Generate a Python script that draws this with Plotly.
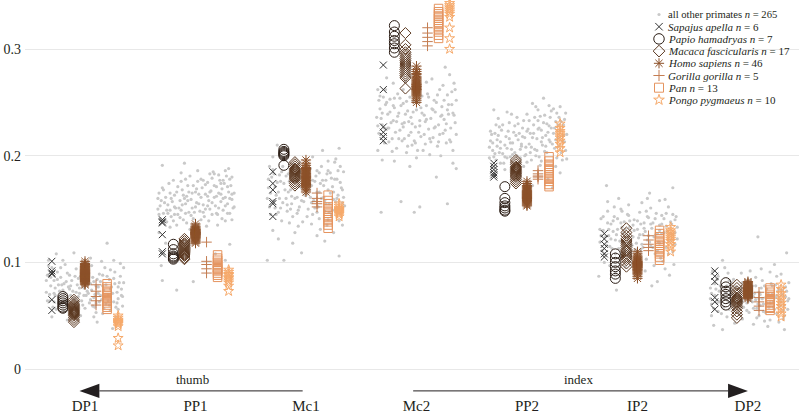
import plotly.graph_objects as go

categories = ["DP1", "PP1", "Mc1", "Mc2", "PP2", "IP2", "DP2"]
y_ticks = [0, 0.1, 0.2, 0.3]
y_tick_labels = ["0", "0.1", "0.2", "0.3"]

# ---- all other primates: (jitter within column, value) ----
other_DP1 = [(-0.33,0.102),(-0.30,0.095),(-0.34,0.088),(-0.28,0.083),(-0.31,0.078),(-0.35,0.072),(-0.27,0.069),(-0.32,0.064),(-0.29,0.058),(-0.25,0.091),(-0.22,0.086),(-0.24,0.079),(-0.20,0.074),(-0.23,0.067),(-0.18,0.071),(-0.21,0.061),(-0.17,0.082),(-0.15,0.077),(-0.19,0.054),(-0.13,0.069),(-0.14,0.088),(-0.11,0.073),(-0.09,0.066),(-0.12,0.058),(-0.07,0.079),(-0.05,0.071),(-0.08,0.094),(-0.03,0.064),(-0.06,0.085),(-0.01,0.076),(0.01,0.069),(0.02,0.081),(0.04,0.062),(0.03,0.092),(0.06,0.074),(0.08,0.067),(0.07,0.086),(0.10,0.078),(0.12,0.071),(0.09,0.058),(0.13,0.089),(0.15,0.065),(0.14,0.082),(0.17,0.074),(0.19,0.061),(0.18,0.095),(0.21,0.069),(0.22,0.084),(0.24,0.077),(0.26,0.063),(0.23,0.055),(0.27,0.091),(0.29,0.072),(0.31,0.081),(0.30,0.066),(0.33,0.075),(0.34,0.059),(0.32,0.099),(0.20,0.118),(-0.10,0.109),(-0.26,0.108),(0.05,0.104),(-0.16,0.046),(0.11,0.044),(0.25,0.038),(-0.04,0.050),(0.28,0.049),(0.16,0.052),(-0.30,0.049),(0.00,0.057),
             (-0.35,0.083),(-0.32,0.070),(-0.29,0.090),(-0.27,0.076),(-0.24,0.062),(-0.22,0.095),(-0.19,0.080),(-0.17,0.064),(-0.14,0.075),(-0.12,0.083),(-0.10,0.061),(-0.08,0.072),(-0.06,0.068),(-0.04,0.087),(-0.02,0.060),(0.00,0.083),(0.02,0.073),(0.05,0.080),(0.07,0.059),(0.09,0.070),(0.11,0.084),(0.13,0.063),(0.16,0.078),(0.18,0.068),(0.20,0.087),(0.22,0.060),(0.25,0.071),(0.27,0.080),(0.29,0.062),(0.32,0.087),(0.34,0.068),(0.06,0.097),(-0.18,0.098),(0.15,0.101),(-0.28,0.063),(0.30,0.056),(-0.12,0.052),(0.10,0.053),(0.23,0.093),(-0.33,0.097),
             (-0.34,0.064),(-0.31,0.086),(-0.28,0.071),(-0.25,0.084),(-0.23,0.073),(-0.21,0.079),(-0.18,0.065),(-0.16,0.090),(-0.13,0.078),(-0.11,0.066),(-0.09,0.087),(-0.07,0.063),(-0.05,0.076),(-0.03,0.083),(-0.01,0.069),(0.01,0.089),(0.03,0.071),(0.05,0.065),(0.08,0.082),(0.10,0.062),(0.12,0.077),(0.14,0.069),(0.16,0.088),(0.19,0.079),(0.21,0.064),(0.23,0.075),(0.26,0.085),(0.28,0.058),(0.30,0.077),(0.33,0.069),(0.35,0.081),(-0.20,0.102),(0.00,0.099),(0.26,0.102),(-0.08,0.056),(0.17,0.057),(-0.26,0.056),(0.35,0.095),(-0.15,0.060),(0.08,0.049)]
other_PP1 = [(-0.30,0.191),(-0.10,0.193),(0.16,0.185),(-0.33,0.165),(-0.31,0.158),(-0.34,0.150),(-0.29,0.146),(-0.32,0.141),(-0.27,0.161),(-0.25,0.154),(-0.26,0.138),(-0.23,0.149),(-0.21,0.157),(-0.22,0.143),(-0.19,0.163),(-0.18,0.151),(-0.16,0.145),(-0.17,0.135),(-0.14,0.158),(-0.12,0.168),(-0.13,0.149),(-0.11,0.140),(-0.09,0.155),(-0.08,0.162),(-0.06,0.147),(-0.07,0.172),(-0.04,0.159),(-0.03,0.151),(-0.02,0.141),(0.00,0.166),(0.01,0.156),(0.02,0.176),(0.04,0.148),(0.05,0.161),(0.06,0.170),(0.07,0.154),(0.09,0.164),(0.08,0.143),(0.11,0.175),(0.12,0.158),(0.13,0.150),(0.14,0.167),(0.15,0.179),(0.17,0.161),(0.18,0.153),(0.19,0.171),(0.20,0.145),(0.21,0.165),(0.22,0.177),(0.23,0.157),(0.24,0.169),(0.25,0.149),(0.26,0.174),(0.27,0.161),(0.28,0.181),(0.29,0.155),(0.30,0.166),(0.31,0.146),(0.32,0.172),(0.33,0.159),(0.34,0.151),(0.27,0.139),(0.10,0.134),(-0.05,0.131),(-0.30,0.083),(-0.17,0.074),(-0.02,0.082),(0.18,0.108),(0.27,0.102),(0.31,0.117),(-0.31,0.097),(-0.27,0.118),
             (-0.34,0.160),(-0.32,0.153),(-0.29,0.168),(-0.28,0.140),(-0.25,0.146),(-0.23,0.165),(-0.20,0.139),(-0.19,0.152),(-0.16,0.171),(-0.14,0.142),(-0.12,0.154),(-0.10,0.160),(-0.08,0.137),(-0.06,0.166),(-0.04,0.144),(-0.02,0.172),(0.00,0.152),(0.03,0.164),(0.05,0.140),(0.07,0.177),(0.09,0.150),(0.11,0.162),(0.13,0.183),(0.15,0.156),(0.17,0.172),(0.19,0.146),(0.21,0.182),(0.23,0.164),(0.25,0.177),(0.27,0.153),(0.29,0.171),(0.31,0.160),(0.33,0.180),(0.35,0.165),(0.02,0.186),(-0.20,0.177),(0.24,0.141),(-0.09,0.178),(0.12,0.139),(0.30,0.188),
             (-0.33,0.145),(-0.30,0.170),(-0.28,0.156),(-0.26,0.149),(-0.24,0.174),(-0.22,0.160),(-0.19,0.145),(-0.17,0.166),(-0.15,0.151),(-0.13,0.176),(-0.11,0.163),(-0.09,0.146),(-0.07,0.158),(-0.05,0.181),(-0.03,0.165),(-0.01,0.147),(0.01,0.169),(0.03,0.155),(0.05,0.178),(0.07,0.147),(0.09,0.173),(0.11,0.153),(0.13,0.166),(0.15,0.145),(0.17,0.183),(0.19,0.162),(0.21,0.151),(0.23,0.174),(0.25,0.160),(0.27,0.186),(0.29,0.146),(0.31,0.178),(0.33,0.164),(0.35,0.152),(-0.23,0.133),(0.00,0.136),(0.20,0.135),(-0.33,0.128),(0.33,0.140),(-0.13,0.184)]
other_Mc1 = [(-0.26,0.210),(0.15,0.205),(0.30,0.207),(-0.34,0.178),(-0.32,0.165),(-0.33,0.152),(-0.30,0.187),(-0.28,0.171),(-0.29,0.158),(-0.27,0.145),(-0.24,0.182),(-0.25,0.166),(-0.23,0.151),(-0.21,0.190),(-0.20,0.174),(-0.22,0.139),(-0.18,0.160),(-0.17,0.148),(-0.16,0.183),(-0.14,0.168),(-0.13,0.155),(-0.12,0.143),(-0.11,0.192),(-0.09,0.176),(-0.08,0.161),(-0.07,0.149),(-0.05,0.185),(-0.04,0.170),(-0.03,0.138),(-0.02,0.157),(0.00,0.179),(0.01,0.164),(0.02,0.150),(0.04,0.188),(0.05,0.172),(0.06,0.145),(0.07,0.158),(0.09,0.181),(0.10,0.166),(0.11,0.152),(0.12,0.141),(0.13,0.174),(0.14,0.190),(0.16,0.161),(0.17,0.148),(0.18,0.177),(0.19,0.135),(0.20,0.168),(0.21,0.155),(0.22,0.184),(0.23,0.144),(0.24,0.171),(0.25,0.159),(0.26,0.194),(0.27,0.150),(0.28,0.178),(0.29,0.163),(0.31,0.146),(0.32,0.170),(0.33,0.156),(0.34,0.185),(0.30,0.139),(-0.12,0.118),(-0.04,0.109),(0.30,0.106),(-0.35,0.102),(-0.20,0.102),(0.10,0.125),(0.25,0.128),(-0.30,0.130),
             (-0.35,0.160),(-0.31,0.180),(-0.28,0.151),(-0.26,0.175),(-0.24,0.160),(-0.22,0.185),(-0.19,0.168),(-0.17,0.154),(-0.15,0.176),(-0.13,0.162),(-0.10,0.182),(-0.08,0.146),(-0.06,0.171),(-0.04,0.158),(-0.01,0.186),(0.01,0.143),(0.03,0.168),(0.05,0.156),(0.08,0.176),(0.10,0.147),(0.12,0.184),(0.14,0.160),(0.16,0.172),(0.18,0.155),(0.20,0.186),(0.22,0.165),(0.24,0.149),(0.26,0.178),(0.28,0.160),(0.31,0.190),(0.33,0.168),(0.35,0.153),(-0.20,0.197),(0.06,0.199),(-0.33,0.190),(0.20,0.140),(-0.15,0.137),(0.27,0.197),(-0.07,0.134),(0.13,0.131),
             (-0.34,0.170),(-0.32,0.145),(-0.29,0.183),(-0.27,0.163),(-0.25,0.147),(-0.23,0.176),(-0.21,0.156),(-0.18,0.181),(-0.16,0.166),(-0.14,0.150),(-0.12,0.187),(-0.10,0.160),(-0.08,0.177),(-0.06,0.152),(-0.03,0.180),(-0.01,0.163),(0.02,0.184),(0.04,0.161),(0.06,0.177),(0.08,0.151),(0.10,0.186),(0.12,0.166),(0.15,0.177),(0.17,0.158),(0.19,0.183),(0.21,0.147),(0.23,0.179),(0.25,0.166),(0.27,0.157),(0.29,0.186),(0.31,0.175),(0.34,0.161),(-0.30,0.199),(0.00,0.196),(0.20,0.195),(-0.10,0.128),(0.33,0.135),(-0.25,0.122),(0.17,0.120),(0.05,0.136)]
other_Mc2 = [(-0.35,0.262),(-0.30,0.255),(-0.33,0.244),(-0.36,0.236),(-0.28,0.248),(-0.31,0.229),(-0.34,0.221),(-0.29,0.212),(-0.26,0.239),(-0.24,0.253),(-0.25,0.226),(-0.22,0.216),(-0.20,0.245),(-0.21,0.233),(-0.18,0.207),(-0.17,0.258),(-0.15,0.224),(-0.16,0.240),(-0.13,0.214),(-0.12,0.249),(-0.11,0.231),(-0.09,0.203),(-0.08,0.242),(-0.07,0.219),(-0.05,0.236),(-0.04,0.210),(-0.03,0.251),(-0.01,0.227),(0.00,0.243),(0.01,0.205),(0.03,0.233),(0.04,0.218),(0.05,0.256),(0.07,0.238),(0.08,0.211),(0.09,0.247),(0.11,0.225),(0.12,0.201),(0.13,0.235),(0.15,0.217),(0.16,0.252),(0.17,0.241),(0.19,0.209),(0.20,0.229),(0.21,0.262),(0.23,0.246),(0.24,0.221),(0.25,0.234),(0.27,0.212),(0.28,0.257),(0.29,0.239),(0.31,0.226),(0.32,0.248),(0.33,0.205),(0.34,0.268),(0.35,0.231),(0.30,0.276),(0.26,0.283),(-0.10,0.270),(-0.27,0.273),(0.14,0.272),(-0.31,0.196),(-0.06,0.190),(0.33,0.193),(0.36,0.188),(-0.14,0.157),(0.03,0.152),(0.28,0.155),(-0.32,0.147),(-0.02,0.147),(0.18,0.180),
             (-0.34,0.252),(-0.32,0.235),(-0.30,0.218),(-0.28,0.262),(-0.26,0.226),(-0.24,0.241),(-0.22,0.204),(-0.20,0.254),(-0.18,0.232),(-0.16,0.216),(-0.14,0.247),(-0.12,0.227),(-0.10,0.239),(-0.08,0.209),(-0.06,0.255),(-0.04,0.230),(-0.02,0.214),(0.00,0.260),(0.02,0.222),(0.04,0.245),(0.06,0.205),(0.08,0.232),(0.10,0.258),(0.12,0.216),(0.14,0.244),(0.16,0.226),(0.18,0.250),(0.20,0.213),(0.22,0.237),(0.24,0.266),(0.26,0.224),(0.28,0.243),(0.30,0.215),(0.32,0.260),(0.34,0.238),(0.36,0.220),(-0.21,0.268),(0.09,0.269),(-0.35,0.205),(0.36,0.252),
             (-0.35,0.228),(-0.33,0.256),(-0.31,0.240),(-0.29,0.226),(-0.27,0.250),(-0.25,0.213),(-0.23,0.231),(-0.21,0.247),(-0.19,0.222),(-0.17,0.237),(-0.15,0.254),(-0.13,0.230),(-0.11,0.216),(-0.09,0.251),(-0.07,0.232),(-0.05,0.222),(-0.03,0.241),(-0.01,0.212),(0.01,0.250),(0.03,0.228),(0.05,0.240),(0.07,0.220),(0.09,0.234),(0.11,0.255),(0.13,0.213),(0.15,0.243),(0.17,0.227),(0.19,0.257),(0.21,0.220),(0.23,0.238),(0.25,0.252),(0.27,0.230),(0.29,0.248),(0.31,0.213),(0.33,0.240),(0.35,0.262),(-0.20,0.195),(0.00,0.198),(0.22,0.200),(-0.12,0.262)]
other_PP2 = [(0.15,0.254),(0.08,0.246),(-0.33,0.214),(-0.31,0.205),(-0.34,0.198),(-0.29,0.221),(-0.27,0.209),(-0.28,0.196),(-0.25,0.227),(-0.24,0.213),(-0.22,0.202),(-0.21,0.193),(-0.19,0.218),(-0.18,0.207),(-0.16,0.231),(-0.15,0.199),(-0.13,0.212),(-0.12,0.222),(-0.11,0.203),(-0.09,0.236),(-0.08,0.215),(-0.06,0.198),(-0.05,0.209),(-0.04,0.226),(-0.02,0.217),(-0.01,0.201),(0.00,0.239),(0.02,0.211),(0.03,0.221),(0.04,0.196),(0.06,0.229),(0.07,0.206),(0.09,0.216),(0.10,0.233),(0.11,0.199),(0.13,0.224),(0.14,0.210),(0.16,0.238),(0.17,0.219),(0.18,0.203),(0.20,0.228),(0.21,0.213),(0.22,0.242),(0.24,0.221),(0.25,0.207),(0.26,0.232),(0.28,0.217),(0.29,0.236),(0.30,0.224),(0.31,0.203),(0.33,0.229),(0.34,0.213),(0.35,0.240),(0.32,0.196),(0.27,0.198),(0.12,0.191),(-0.03,0.190),(-0.20,0.187),(-0.32,0.189),(0.19,0.178),(0.30,0.184),(-0.10,0.181),(0.05,0.172),(0.23,0.170),(-0.26,0.235),(-0.30,0.243),
             (-0.34,0.208),(-0.32,0.220),(-0.30,0.199),(-0.27,0.215),(-0.25,0.203),(-0.23,0.224),(-0.20,0.210),(-0.18,0.198),(-0.16,0.216),(-0.14,0.206),(-0.11,0.228),(-0.09,0.200),(-0.07,0.221),(-0.05,0.211),(-0.03,0.233),(-0.01,0.208),(0.01,0.225),(0.03,0.203),(0.05,0.217),(0.07,0.236),(0.09,0.205),(0.11,0.226),(0.13,0.213),(0.15,0.231),(0.17,0.209),(0.19,0.222),(0.21,0.236),(0.23,0.211),(0.25,0.226),(0.27,0.240),(0.29,0.209),(0.31,0.232),(0.33,0.219),(0.35,0.205),(0.20,0.247),(-0.14,0.239),(0.00,0.194),(-0.24,0.193),(0.10,0.243),(0.26,0.190),
             (-0.33,0.223),(-0.31,0.212),(-0.29,0.202),(-0.26,0.219),(-0.24,0.207),(-0.22,0.229),(-0.20,0.199),(-0.17,0.223),(-0.15,0.212),(-0.13,0.201),(-0.10,0.219),(-0.08,0.230),(-0.06,0.206),(-0.04,0.218),(-0.02,0.200),(0.00,0.223),(0.02,0.233),(0.04,0.208),(0.06,0.221),(0.08,0.200),(0.10,0.225),(0.12,0.237),(0.14,0.217),(0.16,0.204),(0.18,0.230),(0.20,0.215),(0.22,0.226),(0.24,0.244),(0.26,0.215),(0.28,0.229),(0.30,0.246),(0.32,0.214),(0.34,0.234),(0.36,0.220),(-0.18,0.241),(0.05,0.249),(-0.28,0.229),(0.13,0.195),(-0.07,0.193),(0.36,0.197)]
other_IP2 = [(-0.28,0.172),(0.11,0.165),(0.32,0.170),(0.20,0.158),(-0.17,0.160),(-0.33,0.141),(-0.31,0.130),(-0.34,0.119),(-0.30,0.108),(-0.27,0.148),(-0.26,0.125),(-0.24,0.136),(-0.23,0.113),(-0.21,0.143),(-0.20,0.121),(-0.18,0.131),(-0.16,0.104),(-0.15,0.150),(-0.13,0.127),(-0.12,0.138),(-0.10,0.116),(-0.09,0.145),(-0.07,0.133),(-0.06,0.109),(-0.04,0.124),(-0.03,0.140),(-0.01,0.118),(0.00,0.131),(0.02,0.147),(0.03,0.112),(0.05,0.126),(0.06,0.137),(0.08,0.103),(0.09,0.121),(0.10,0.142),(0.12,0.115),(0.13,0.132),(0.15,0.124),(0.16,0.108),(0.17,0.146),(0.19,0.119),(0.20,0.135),(0.22,0.127),(0.23,0.101),(0.24,0.141),(0.26,0.114),(0.27,0.129),(0.28,0.152),(0.30,0.121),(0.31,0.136),(0.32,0.110),(0.34,0.128),(0.35,0.143),(0.33,0.098),(0.25,0.094),(0.07,0.092),(-0.11,0.096),(-0.25,0.097),(-0.35,0.087),(-0.19,0.074),(0.13,0.078),(0.18,0.082),(0.29,0.088),(0.04,0.156),(-0.08,0.154),
             (-0.34,0.131),(-0.32,0.111),(-0.29,0.124),(-0.27,0.137),(-0.25,0.115),(-0.22,0.129),(-0.20,0.108),(-0.18,0.141),(-0.16,0.120),(-0.14,0.133),(-0.11,0.111),(-0.09,0.125),(-0.07,0.139),(-0.05,0.116),(-0.03,0.130),(-0.01,0.107),(0.01,0.123),(0.03,0.136),(0.05,0.114),(0.07,0.129),(0.09,0.143),(0.11,0.119),(0.14,0.137),(0.16,0.125),(0.18,0.111),(0.20,0.130),(0.22,0.144),(0.24,0.119),(0.26,0.134),(0.28,0.108),(0.30,0.127),(0.32,0.145),(0.34,0.117),(0.36,0.133),(-0.21,0.152),(0.12,0.151),(-0.30,0.100),(0.21,0.104),(0.00,0.099),(-0.14,0.148),
             (-0.33,0.125),(-0.31,0.143),(-0.28,0.116),(-0.26,0.131),(-0.24,0.122),(-0.22,0.139),(-0.19,0.126),(-0.17,0.113),(-0.15,0.137),(-0.13,0.120),(-0.11,0.131),(-0.08,0.144),(-0.06,0.121),(-0.04,0.135),(-0.02,0.112),(0.00,0.139),(0.02,0.126),(0.04,0.117),(0.06,0.132),(0.08,0.148),(0.10,0.125),(0.12,0.136),(0.14,0.114),(0.16,0.141),(0.18,0.127),(0.20,0.118),(0.22,0.136),(0.24,0.128),(0.26,0.146),(0.28,0.121),(0.30,0.138),(0.32,0.126),(0.34,0.140),(0.36,0.122),(-0.27,0.157),(0.09,0.160),(0.25,0.159),(-0.04,0.100),(0.15,0.097),(-0.20,0.090)]
other_DP2 = [(0.09,0.124),(0.35,0.109),(-0.23,0.102),(-0.32,0.092),(-0.28,0.084),(-0.34,0.076),(-0.30,0.069),(-0.33,0.061),(-0.27,0.054),(-0.25,0.078),(-0.24,0.065),(-0.22,0.058),(-0.20,0.072),(-0.19,0.049),(-0.17,0.083),(-0.16,0.062),(-0.14,0.070),(-0.13,0.055),(-0.11,0.077),(-0.10,0.064),(-0.08,0.051),(-0.07,0.068),(-0.05,0.081),(-0.04,0.058),(-0.02,0.073),(-0.01,0.062),(0.01,0.053),(0.02,0.069),(0.04,0.078),(0.05,0.057),(0.07,0.065),(0.08,0.048),(0.10,0.072),(0.11,0.060),(0.13,0.083),(0.14,0.054),(0.16,0.067),(0.17,0.075),(0.19,0.058),(0.20,0.046),(0.22,0.070),(0.23,0.063),(0.25,0.079),(0.26,0.052),(0.28,0.066),(0.29,0.059),(0.31,0.074),(0.32,0.047),(0.34,0.068),(0.36,0.056),(0.37,0.081),(0.30,0.089),(0.12,0.094),(-0.06,0.090),(-0.21,0.095),(-0.23,0.037),(0.33,0.037),(-0.31,0.041),(0.05,0.042),(0.18,0.040),(-0.12,0.043),(0.24,0.098),
             (-0.34,0.066),(-0.31,0.057),(-0.29,0.075),(-0.26,0.063),(-0.24,0.052),(-0.21,0.067),(-0.19,0.078),(-0.17,0.056),(-0.15,0.074),(-0.12,0.063),(-0.10,0.070),(-0.08,0.059),(-0.06,0.076),(-0.03,0.066),(-0.01,0.055),(0.02,0.077),(0.04,0.063),(0.06,0.071),(0.08,0.057),(0.10,0.066),(0.12,0.076),(0.14,0.061),(0.16,0.053),(0.18,0.071),(0.20,0.062),(0.22,0.078),(0.24,0.056),(0.26,0.069),(0.28,0.075),(0.30,0.063),(0.32,0.055),(0.34,0.077),(0.36,0.064),(-0.27,0.087),(0.07,0.086),(0.26,0.087),(-0.13,0.084),(0.15,0.045),(-0.05,0.047),(0.33,0.050),
             (-0.33,0.071),(-0.30,0.080),(-0.28,0.062),(-0.26,0.073),(-0.23,0.068),(-0.21,0.076),(-0.18,0.063),(-0.16,0.071),(-0.14,0.081),(-0.12,0.058),(-0.10,0.068),(-0.07,0.075),(-0.05,0.063),(-0.03,0.071),(-0.01,0.079),(0.01,0.064),(0.03,0.072),(0.05,0.068),(0.07,0.078),(0.09,0.061),(0.11,0.070),(0.13,0.066),(0.15,0.078),(0.17,0.062),(0.19,0.069),(0.21,0.080),(0.23,0.058),(0.25,0.067),(0.27,0.073),(0.29,0.063),(0.31,0.070),(0.33,0.060),(0.35,0.073),(0.37,0.066),(-0.18,0.090),(0.02,0.092),(0.20,0.091),(-0.33,0.050),(0.10,0.050),(0.28,0.044)]
other_primates = [other_DP1, other_PP1, other_Mc1, other_Mc2, other_PP2, other_IP2, other_DP2]

# ---- species values per category (DP1, PP1, Mc1, Mc2, PP2, IP2, DP2) ----
sapajus = [
    [0.101, 0.092, 0.090, 0.089, 0.065, 0.055],
    [0.140, 0.138, 0.137, 0.126, 0.110, 0.108],
    [0.185, 0.174, 0.168, 0.157, 0.155, 0.143],
    [0.285, 0.262, 0.227, 0.222, 0.218, 0.214],
    [0.193, 0.190, 0.187, 0.184, 0.182, 0.180],
    [0.127, 0.122, 0.117, 0.113, 0.108, 0.105],
    [0.092, 0.087, 0.082, 0.067, 0.063, 0.056],
]
papio = [
    [0.068, 0.066, 0.064, 0.062, 0.060, 0.058, 0.057],
    [0.117, 0.112, 0.108, 0.106, 0.105, 0.104, 0.103],
    [0.206, 0.204, 0.203, 0.202, 0.201, 0.200, 0.191],
    [0.322, 0.316, 0.312, 0.308, 0.305, 0.301, 0.297],
    [0.171, 0.160, 0.156, 0.153, 0.151, 0.149, 0.148],
    [0.108, 0.104, 0.100, 0.096, 0.092, 0.089, 0.085],
    [0.081, 0.077, 0.073, 0.070, 0.066, 0.063, 0.060],
]
macaca = [
    [0.065, 0.063, 0.061, 0.060, 0.059, 0.058, 0.057, 0.056, 0.055, 0.054, 0.053, 0.052, 0.051, 0.050, 0.048, 0.046, 0.044],
    [0.122, 0.120, 0.118, 0.117, 0.116, 0.115, 0.114, 0.113, 0.112, 0.111, 0.110, 0.109, 0.108, 0.107, 0.106, 0.104, 0.103],
    [0.194, 0.192, 0.190, 0.188, 0.187, 0.186, 0.185, 0.184, 0.183, 0.182, 0.181, 0.180, 0.179, 0.178, 0.176, 0.174, 0.172],
    [0.315, 0.304, 0.300, 0.297, 0.295, 0.293, 0.291, 0.289, 0.287, 0.285, 0.283, 0.281, 0.279, 0.277, 0.275, 0.273, 0.263],
    [0.196, 0.194, 0.192, 0.190, 0.189, 0.188, 0.187, 0.186, 0.185, 0.184, 0.183, 0.182, 0.181, 0.180, 0.178, 0.176, 0.174],
    [0.132, 0.128, 0.125, 0.122, 0.120, 0.118, 0.116, 0.114, 0.112, 0.111, 0.110, 0.108, 0.106, 0.104, 0.102, 0.099, 0.096],
    [0.079, 0.076, 0.073, 0.071, 0.069, 0.067, 0.066, 0.065, 0.064, 0.063, 0.062, 0.061, 0.059, 0.057, 0.054, 0.051, 0.048],
]
homo = [
    [0.101, 0.099, 0.098, 0.097, 0.096, 0.096, 0.095, 0.095, 0.094, 0.094, 0.093, 0.093, 0.093, 0.092, 0.092, 0.092, 0.091, 0.091, 0.091, 0.090, 0.090, 0.090, 0.090, 0.089, 0.089, 0.089, 0.088, 0.088, 0.088, 0.087, 0.087, 0.087, 0.086, 0.086, 0.086, 0.085, 0.085, 0.084, 0.084, 0.083, 0.083, 0.082, 0.082, 0.081, 0.080, 0.079],
    [0.136, 0.134, 0.133, 0.132, 0.131, 0.131, 0.130, 0.130, 0.129, 0.129, 0.128, 0.128, 0.128, 0.127, 0.127, 0.127, 0.126, 0.126, 0.126, 0.125, 0.125, 0.124, 0.124, 0.123, 0.123, 0.122, 0.121, 0.120, 0.119, 0.118],
    [0.196, 0.193, 0.191, 0.189, 0.188, 0.187, 0.186, 0.185, 0.184, 0.183, 0.183, 0.182, 0.181, 0.181, 0.180, 0.180, 0.179, 0.179, 0.178, 0.177, 0.177, 0.176, 0.175, 0.174, 0.173, 0.172, 0.171, 0.170, 0.168, 0.166],
    [0.284, 0.281, 0.279, 0.277, 0.276, 0.274, 0.273, 0.272, 0.271, 0.270, 0.269, 0.268, 0.267, 0.267, 0.266, 0.265, 0.265, 0.264, 0.263, 0.262, 0.262, 0.261, 0.260, 0.259, 0.258, 0.257, 0.256, 0.254, 0.252, 0.250],
    [0.176, 0.174, 0.172, 0.171, 0.170, 0.169, 0.168, 0.167, 0.167, 0.166, 0.166, 0.165, 0.165, 0.164, 0.164, 0.163, 0.163, 0.162, 0.162, 0.161, 0.161, 0.160, 0.160, 0.159, 0.158, 0.157, 0.156, 0.155, 0.154, 0.153],
    [0.110, 0.108, 0.106, 0.105, 0.104, 0.103, 0.102, 0.101, 0.101, 0.100, 0.100, 0.099, 0.099, 0.098, 0.098, 0.097, 0.097, 0.096, 0.096, 0.095, 0.095, 0.094, 0.093, 0.093, 0.092, 0.091, 0.090, 0.089, 0.087, 0.085],
    [0.082, 0.081, 0.080, 0.079, 0.078, 0.078, 0.077, 0.077, 0.076, 0.076, 0.076, 0.075, 0.075, 0.075, 0.074, 0.074, 0.074, 0.073, 0.073, 0.073, 0.072, 0.072, 0.071, 0.071, 0.070, 0.070, 0.069, 0.068, 0.067, 0.066],
]
gorilla = [
    [0.079, 0.073, 0.068, 0.064, 0.060],
    [0.119, 0.101, 0.098, 0.094, 0.090],
    [0.165, 0.160, 0.157, 0.155, 0.152],
    [0.320, 0.315, 0.311, 0.307, 0.303],
    [0.186, 0.183, 0.181, 0.180, 0.178],
    [0.125, 0.121, 0.117, 0.114, 0.111],
    [0.072, 0.067, 0.063, 0.059, 0.055],
]
pan = [
    [0.080, 0.077, 0.075, 0.073, 0.071, 0.069, 0.067, 0.066, 0.064, 0.062, 0.060, 0.058, 0.056],
    [0.107, 0.104, 0.102, 0.100, 0.098, 0.097, 0.095, 0.094, 0.093, 0.092, 0.090, 0.088, 0.086],
    [0.163, 0.158, 0.155, 0.152, 0.150, 0.148, 0.146, 0.144, 0.142, 0.140, 0.138, 0.135, 0.132],
    [0.338, 0.335, 0.333, 0.331, 0.329, 0.327, 0.325, 0.323, 0.321, 0.319, 0.316, 0.313, 0.310],
    [0.199, 0.195, 0.192, 0.190, 0.188, 0.186, 0.184, 0.182, 0.180, 0.178, 0.176, 0.173, 0.171],
    [0.130, 0.127, 0.124, 0.122, 0.120, 0.118, 0.116, 0.114, 0.112, 0.110, 0.108, 0.105, 0.102],
    [0.076, 0.074, 0.072, 0.070, 0.068, 0.066, 0.065, 0.063, 0.062, 0.060, 0.058, 0.057, 0.055],
]
pongo = [
    [0.050, 0.048, 0.046, 0.045, 0.044, 0.043, 0.042, 0.040, 0.029, 0.022],
    [0.093, 0.091, 0.089, 0.088, 0.086, 0.085, 0.083, 0.081, 0.078, 0.073],
    [0.155, 0.153, 0.151, 0.150, 0.149, 0.148, 0.147, 0.146, 0.145, 0.143],
    [0.343, 0.341, 0.339, 0.337, 0.335, 0.333, 0.330, 0.320, 0.310, 0.300],
    [0.230, 0.226, 0.223, 0.221, 0.219, 0.217, 0.214, 0.211, 0.207, 0.203],
    [0.133, 0.130, 0.128, 0.126, 0.124, 0.122, 0.120, 0.117, 0.114, 0.110],
    [0.079, 0.075, 0.071, 0.068, 0.065, 0.062, 0.059, 0.056, 0.052, 0.049],
]

species_names = ["Sapajus apella", "Papio hamadryas", "Macaca fascicularis",
                 "Homo sapiens", "Gorilla gorilla", "Pan", "Pongo pygmaeus"]
species_n = [6, 7, 17, 46, 5, 13, 10]
species_values = [sapajus, papio, macaca, homo, gorilla, pan, pongo]
other_n = 265

# styles
symbols = ["x-thin-open", "circle-open", "diamond-open", "asterisk-open",
           "cross-thin-open", "square-open", "star-open"]
sizes = [7, 10, 8.5, 8.5, 7.5, 8.5, 7.5]
leg_sizes = [7.5, 10.5, 9, 8.5, 8, 9, 8]
colors = ["#333333", "#2b1d15", "#5b3820", "#8c5129", "#c47d52", "#e5945f", "#f6a96a"]
offsets = [-0.3, -0.2, -0.1, 0.0, 0.1, 0.2, 0.3]
gray = "#c9c9c9"
FONT = "Liberation Serif"
TXT = "#231f20"

fig = go.Figure()

gx, gy = [], []
for i, pts in enumerate(other_primates):
    for dx, v in pts:
        gx.append(i + dx)
        gy.append(v)
fig.add_trace(go.Scatter(x=gx, y=gy, mode="markers", showlegend=False, hoverinfo="skip",
                         cliponaxis=False, marker=dict(size=3.2, color=gray)))

for k, vals in enumerate(species_values):
    xs, ys = [], []
    for i, col in enumerate(vals):
        xs += [i + offsets[k]] * len(col)
        ys += col
    fig.add_trace(go.Scatter(x=xs, y=ys, mode="markers", showlegend=False, hoverinfo="skip",
                             cliponaxis=False,
                             marker=dict(symbol=symbols[k], size=sizes[k], color=colors[k],
                                         line=dict(width=1, color=colors[k]))))

# ---- manual compact legend on an overlay pixel axis ----
leg_x, leg_y0, leg_dy = 659, 14.5, 12.2
fig.add_trace(go.Scatter(x=[leg_x], y=[leg_y0], xaxis="x2", yaxis="y2", mode="markers",
                         showlegend=False, hoverinfo="skip", cliponaxis=False,
                         marker=dict(size=3.2, color=gray)))
annotations = [dict(x=leg_x + 7, y=leg_y0, xref="x2", yref="y2", xanchor="left", yanchor="middle",
                    showarrow=False, text="all other primates <i>n</i> = %d" % other_n,
                    font=dict(family=FONT, size=10.6, color=TXT))]
for k in range(len(species_names)):
    yy = leg_y0 + leg_dy * (k + 1)
    fig.add_trace(go.Scatter(x=[leg_x], y=[yy], xaxis="x2", yaxis="y2", mode="markers",
                             showlegend=False, hoverinfo="skip", cliponaxis=False,
                             marker=dict(symbol=symbols[k], size=leg_sizes[k], color=colors[k],
                                         line=dict(width=1, color=colors[k]))))
    annotations.append(dict(x=leg_x + 7, y=yy, xref="x2", yref="y2", xanchor="left", yanchor="middle",
                            showarrow=False,
                            text="<i>%s n</i> = %d" % (species_names[k], species_n[k]),
                            font=dict(family=FONT, size=11, color=TXT)))

# thumb / index labels
arrow_y = -0.048
annotations.append(dict(x=0.97, y=-0.042, xref="x", yref="paper", showarrow=False, text="thumb",
                        font=dict(family=FONT, size=13, color=TXT)))
annotations.append(dict(x=4.47, y=-0.042, xref="x", yref="paper", showarrow=False, text="index",
                        font=dict(family=FONT, size=13, color=TXT)))

head_len, head_half = 0.18, 0.019
shapes = [
    dict(type="line", xref="x", yref="paper", x0=1.97, x1=-0.05 + head_len, y0=arrow_y, y1=arrow_y,
         line=dict(color=TXT, width=1)),
    dict(type="path", xref="x", yref="paper", fillcolor=TXT, line=dict(width=0),
         path="M %f,%f L %f,%f L %f,%f Z" % (-0.05, arrow_y, -0.05 + head_len, arrow_y + head_half,
                                            -0.05 + head_len, arrow_y - head_half)),
    dict(type="line", xref="x", yref="paper", x0=2.97, x1=6.0 - head_len, y0=arrow_y, y1=arrow_y,
         line=dict(color=TXT, width=1)),
    dict(type="path", xref="x", yref="paper", fillcolor=TXT, line=dict(width=0),
         path="M %f,%f L %f,%f L %f,%f Z" % (6.0, arrow_y, 6.0 - head_len, arrow_y + head_half,
                                            6.0 - head_len, arrow_y - head_half)),
]

fig.update_layout(
    width=799, height=420,
    margin=dict(l=25, r=0, t=0, b=47),
    plot_bgcolor="white", paper_bgcolor="white",
    font=dict(family=FONT, color=TXT),
    hovermode=False,
    xaxis=dict(range=[-0.543, 6.462], tickvals=list(range(len(categories))), ticktext=categories,
               showgrid=False, zeroline=False, showline=False, ticks="",
               tickfont=dict(family=FONT, size=15, color=TXT), ticklabelstandoff=22),
    yaxis=dict(range=[-0.0037, 0.346], tickvals=y_ticks, ticktext=y_tick_labels,
               showgrid=True, gridcolor="#e8e8e8", gridwidth=1,
               zeroline=True, zerolinecolor="#e8e8e8", zerolinewidth=1,
               showline=False, ticks="", ticklabelstandoff=3,
               tickfont=dict(family=FONT, size=14, color=TXT)),
    xaxis2=dict(overlaying="x", anchor="y2", range=[25, 799], visible=False),
    yaxis2=dict(overlaying="y", anchor="x2", range=[373, 0], visible=False),
    annotations=annotations,
    shapes=shapes,
)

fig.write_html("out.html", config={"displayModeBar": False},
               post_script="document.body.style.margin='0px';document.body.style.overflow='hidden';")
